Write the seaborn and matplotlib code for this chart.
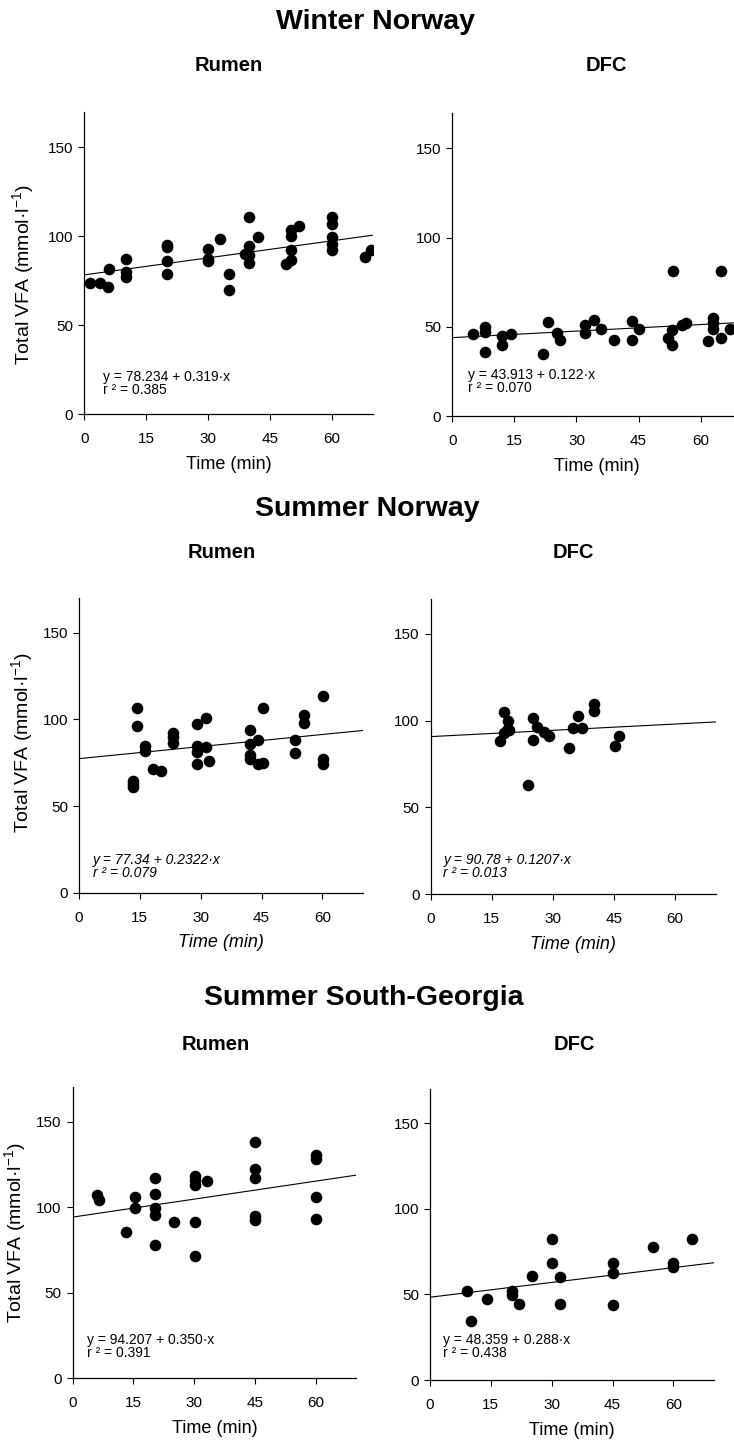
import matplotlib
matplotlib.use('Agg')
import matplotlib.pyplot as plt
import seaborn as sns
import numpy as np

sns.set_style('ticks')
plt.rcParams['font.family'] = ['Liberation Sans', 'DejaVu Sans']
plt.rcParams['mathtext.default'] = 'regular'
plt.rcParams['text.color'] = 'black'
plt.rcParams['axes.labelcolor'] = 'black'

# Winter Norway, rumen
wr_time = [1.5, 3.8, 5.8, 6.0, 10, 10, 10, 20, 20, 20, 20, 30, 30, 30, 33, 35, 35,
           40, 40, 40, 40, 39, 42, 49, 50, 50, 50, 50, 52, 60, 60, 60, 60, 60, 68, 69.5]
wr_vfa = [73.7, 73.7, 71.4, 81.4, 87.3, 79.9, 77, 94.8, 93.9, 85.8, 78.9, 92.8, 87.3, 86,
          98.2, 78.5, 69.9, 110.7, 94.4, 89.6, 84.9, 90, 99.5, 84.2, 103.2, 100, 92.4, 86.4,
          106, 110.7, 107, 99.5, 95.8, 92, 88.3, 92]

# Winter Norway, DFC
wd_time = [5, 8, 8, 8, 12, 12, 14.2, 22, 23.2, 25.2, 26, 32, 32, 34.3, 36, 39, 43.3, 43.3,
           45.2, 52.2, 53.2, 53.2, 53.4, 55.4, 56.4, 61.8, 62.9, 62.9, 62.9, 65, 65, 67]
wd_vfa = [46, 49.7, 47, 36, 45, 40, 46, 35, 52.5, 46.3, 42.6, 51, 46.3, 53.8, 48.6, 42.6,
          53.4, 42.6, 48.6, 43.5, 39.8, 48.2, 81.3, 51, 52, 42.2, 55, 52, 49, 81.3, 43.5, 48.6]

# Summer Norway, rumen
sr_time = [13.2, 13.2, 13.2, 14.2, 14.2, 16.3, 16.3, 18.3, 20.2, 23.2, 23.2, 23.2, 29.1, 29.1,
           29.1, 29.1, 31.3, 31.3, 32.1, 42.1, 42.1, 42.1, 42.1, 44.2, 44.2, 45.4, 45.4, 53.2,
           53.2, 55.4, 55.4, 60.2, 60.2, 60.2]
sr_vfa = [64.5, 62.6, 60.7, 106.8, 96.2, 84.5, 81.8, 71.6, 70.3, 92.4, 89.9, 86.4, 97.2, 84.5,
          81.2, 74.5, 100.8, 84.1, 75.9, 93.7, 86, 79.3, 77.4, 88.3, 74.1, 75.1, 106.6, 88,
          80.3, 102.4, 98.1, 113.5, 77, 74.1]

# Summer Norway, DFC
sd_time = [17, 18, 19.1, 18.7, 18, 19.3, 23.8, 25, 25, 26, 27.8, 29.1, 34, 35, 36.1, 37.1,
           40.2, 40.2, 45.3, 46.2]
sd_vfa = [88.3, 104.7, 99.5, 94.7, 92.8, 94.3, 63, 101.4, 88.9, 96.6, 93.7, 91.2, 84.5, 96,
          102.9, 96, 109.5, 105.8, 85.5, 91.4]

# Summer South-Georgia, rumen
gr_time = [5.9, 6.6, 13.2, 15.5, 15.5, 20.3, 20.3, 20.3, 20.3, 20.3, 25, 30.2, 30.2, 30.2,
           30.2, 30.2, 33.1, 45.1, 45.1, 45.1, 45.1, 45.1, 60.1, 60.1, 60.1, 60.1]
gr_vfa = [107.2, 104.2, 85.7, 106.2, 99.4, 117.3, 107.5, 99.4, 95.5, 77.9, 91.6, 118.5, 115.9,
          113, 91.6, 71.7, 115.3, 138.3, 122.2, 116.9, 94.9, 92.5, 130.5, 128, 105.8, 92.9]

# Summer South-Georgia, DFC
gd_time = [9.2, 10, 14.1, 20.1, 20.1, 22, 25.1, 30, 30, 32, 32, 45, 45, 45, 54.9, 59.8,
           59.8, 64.7]
gd_vfa = [52, 34.7, 47.3, 52, 49.7, 44.2, 60.8, 82.4, 68.2, 60.4, 44.2, 68.2, 62.3, 43.8,
          77.9, 68.6, 66.2, 82.2]

intercepts = [78.234, 43.913, 77.34, 90.78, 94.207, 48.359]
slopes = [0.319, 0.122, 0.2322, 0.1207, 0.350, 0.288]
equations = ['y = 78.234 + 0.319·x', 'y = 43.913 + 0.122·x', 'y = 77.34 + 0.2322·x',
             'y = 90.78 + 0.1207·x', 'y = 94.207 + 0.350·x', 'y = 48.359 + 0.288·x']
r_squared = ['r ² = 0.385', 'r ² = 0.070', 'r ² = 0.079', 'r ² = 0.013', 'r ² = 0.391', 'r ² = 0.438']

x_ticks = [0, 15, 30, 45, 60]
y_ticks = [0, 50, 100, 150]

W, H = 734, 1441
fig = plt.figure(figsize=(W / 100, H / 100), dpi=100)


def px_rect(left, right, top, bottom):
    return [left / W, 1 - bottom / H, (right - left) / W, (bottom - top) / H]


# axes boxes in pixels: left, right, top, bottom
boxes = [(84.3, 373, 111.7, 414), (452.3, 742, 112.6, 416),
         (79, 363, 598, 892.7), (430.7, 715.8, 599, 894.3),
         (72.7, 356, 1087.4, 1378.3), (430, 714, 1089, 1380)]
series = [(wr_time, wr_vfa), (wd_time, wd_vfa), (sr_time, sr_vfa),
          (sd_time, sd_vfa), (gr_time, gr_vfa), (gd_time, gd_vfa)]
note_pos = [(4.5, 25), (3.9, 27), (3.5, 23), (3.1, 24), (3.6, 26.5), (3.1, 27.5)]
ylabel_pos = [(-0.166, 0.46), None, (-0.154, 0.51), None, (-0.157, 0.50), None]

for i, box in enumerate(boxes):
    ax = fig.add_axes(px_rect(*box))
    t, v = series[i]
    italic = 'italic' if i in (2, 3) else 'normal'
    sns.scatterplot(x=t, y=v, ax=ax, color='black', s=70, linewidth=0, zorder=3)
    fit_t = np.array([0, 70])
    sns.lineplot(x=fit_t, y=intercepts[i] + slopes[i] * fit_t, ax=ax, color='black', lw=0.8)
    ax.set_xlim(0, 70)
    ax.set_ylim(0, 170)
    ax.set_xticks(x_ticks)
    ax.set_yticks(y_ticks)
    sns.despine(ax=ax)
    for s in ['left', 'bottom']:
        ax.spines[s].set_linewidth(0.9)
        ax.spines[s].set_color('black')
    ax.tick_params(direction='out', length=4, width=0.8, labelsize=11, colors='black')
    ax.tick_params(axis='x', pad=9)
    ax.tick_params(axis='y', pad=4)
    ax.set_xlabel('Time (min)', fontsize=13, labelpad=7, style=italic)
    if ylabel_pos[i] is not None:
        ax.set_ylabel('Total VFA (mmol·l$^{-1}$)', fontsize=14)
        ax.yaxis.set_label_coords(*ylabel_pos[i])
    else:
        ax.set_ylabel('')
    nx, ny = note_pos[i]
    ax.text(nx, ny, equations[i] + '\n' + r_squared[i], fontsize=10, va='top',
            linespacing=0.95, style=italic)

# section titles and panel headings (pixel positions)
titles = [('Winter Norway', 376, 29), ('Summer Norway', 367, 516),
          ('Summer South-Georgia', 364, 1005)]
for txt, x, y in titles:
    fig.text(x / W, 1 - y / H, txt, fontsize=20.5, fontweight='bold', ha='center', va='baseline')

headings = [('Rumen', 229, 71), ('DFC', 606, 71), ('Rumen', 222, 558), ('DFC', 573, 558),
            ('Rumen', 216, 1050), ('DFC', 574, 1050)]
for txt, x, y in headings:
    fig.text(x / W, 1 - y / H, txt, fontsize=14.5, fontweight='bold', ha='center', va='baseline')

fig.savefig('out.png', dpi=100)
